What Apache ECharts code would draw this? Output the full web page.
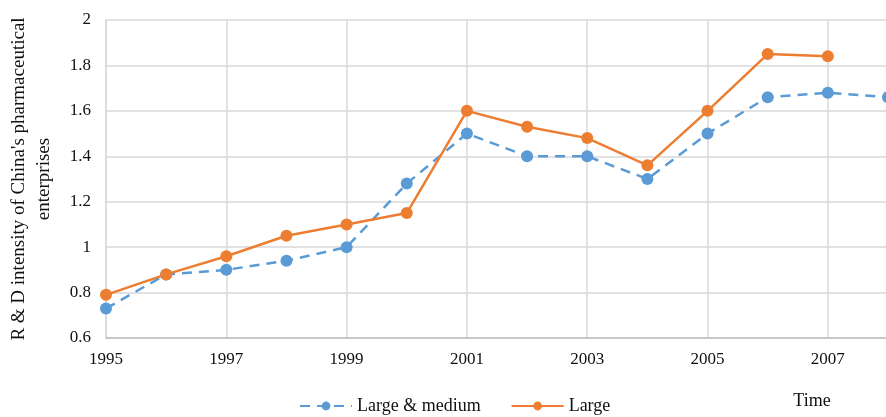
<!DOCTYPE html>
<html><head><meta charset="utf-8">
<script src="https://cdn.jsdelivr.net/npm/echarts@6/dist/echarts.min.js"></script>
<style>html,body{margin:0;padding:0;background:#fff}#c{width:886px;height:417px}</style>
</head><body><div id="c"></div>
<script>
const years = ['1995','1996','1997','1998','1999','2000','2001','2002','2003','2004','2005','2006','2007','2008'];
const largeMedium = [0.73,0.88,0.90,0.94,1.00,1.28,1.50,1.40,1.40,1.30,1.50,1.66,1.68,1.66];
const large = [0.79,0.88,0.96,1.05,1.10,1.15,1.60,1.53,1.48,1.36,1.60,1.85,1.84,null];
const yTicks = {min:0.6, max:2, interval:0.2};
const font = 'Liberation Serif';
const chart = echarts.init(document.getElementById('c'));
chart.setOption({
  animation:false,
  grid:{left:106,width:782,top:20,bottom:79,containLabel:false,outerBoundsMode:'none'},
  legend:{bottom:-3,left:294,itemWidth:52,itemHeight:11,itemGap:30,
    textStyle:{fontFamily:font,fontSize:18,color:'#111'},
    data:['Large & medium','Large']},
  xAxis:{type:'category',data:years,boundaryGap:false,
    name:'Time',nameLocation:'end',nameGap:-76,
    nameTextStyle:{fontFamily:font,fontSize:18,color:'#111',align:'center',verticalAlign:'top',padding:[54,0,0,0]},
    axisLine:{lineStyle:{color:'#bfbfbf',width:1.5}},axisTick:{show:false},
    axisLabel:{interval:1,fontFamily:font,fontSize:17,color:'#111',margin:13},
    splitLine:{show:true,interval:1,lineStyle:{color:'#d9d9d9',width:1.5}}},
  yAxis:{type:'value',min:yTicks.min,max:yTicks.max,interval:yTicks.interval,
    name:"R & D intensity of China's pharmaceutical\nenterprises",nameLocation:'middle',nameGap:49,
    nameTextStyle:{fontFamily:font,fontSize:19,color:'#111',lineHeight:25},
    axisLine:{show:true,lineStyle:{color:'#d9d9d9',width:1.5}},axisTick:{show:false},
    axisLabel:{fontFamily:font,fontSize:17,color:'#111',margin:15,formatter:v=>String(+v.toFixed(1))},
    splitLine:{lineStyle:{color:'#d9d9d9',width:1.5}}},
  series:[
    {name:'Large & medium',type:'line',data:largeMedium,symbol:'circle',symbolSize:12,
      itemStyle:{color:'#5b9bd5'},lineStyle:{color:'#5b9bd5',width:2.5,type:[10,7]}},
    {name:'Large',type:'line',data:large,symbol:'circle',symbolSize:12,
      itemStyle:{color:'#ed7d31'},lineStyle:{color:'#ed7d31',width:2.5}}
  ]
});
</script></body></html>
